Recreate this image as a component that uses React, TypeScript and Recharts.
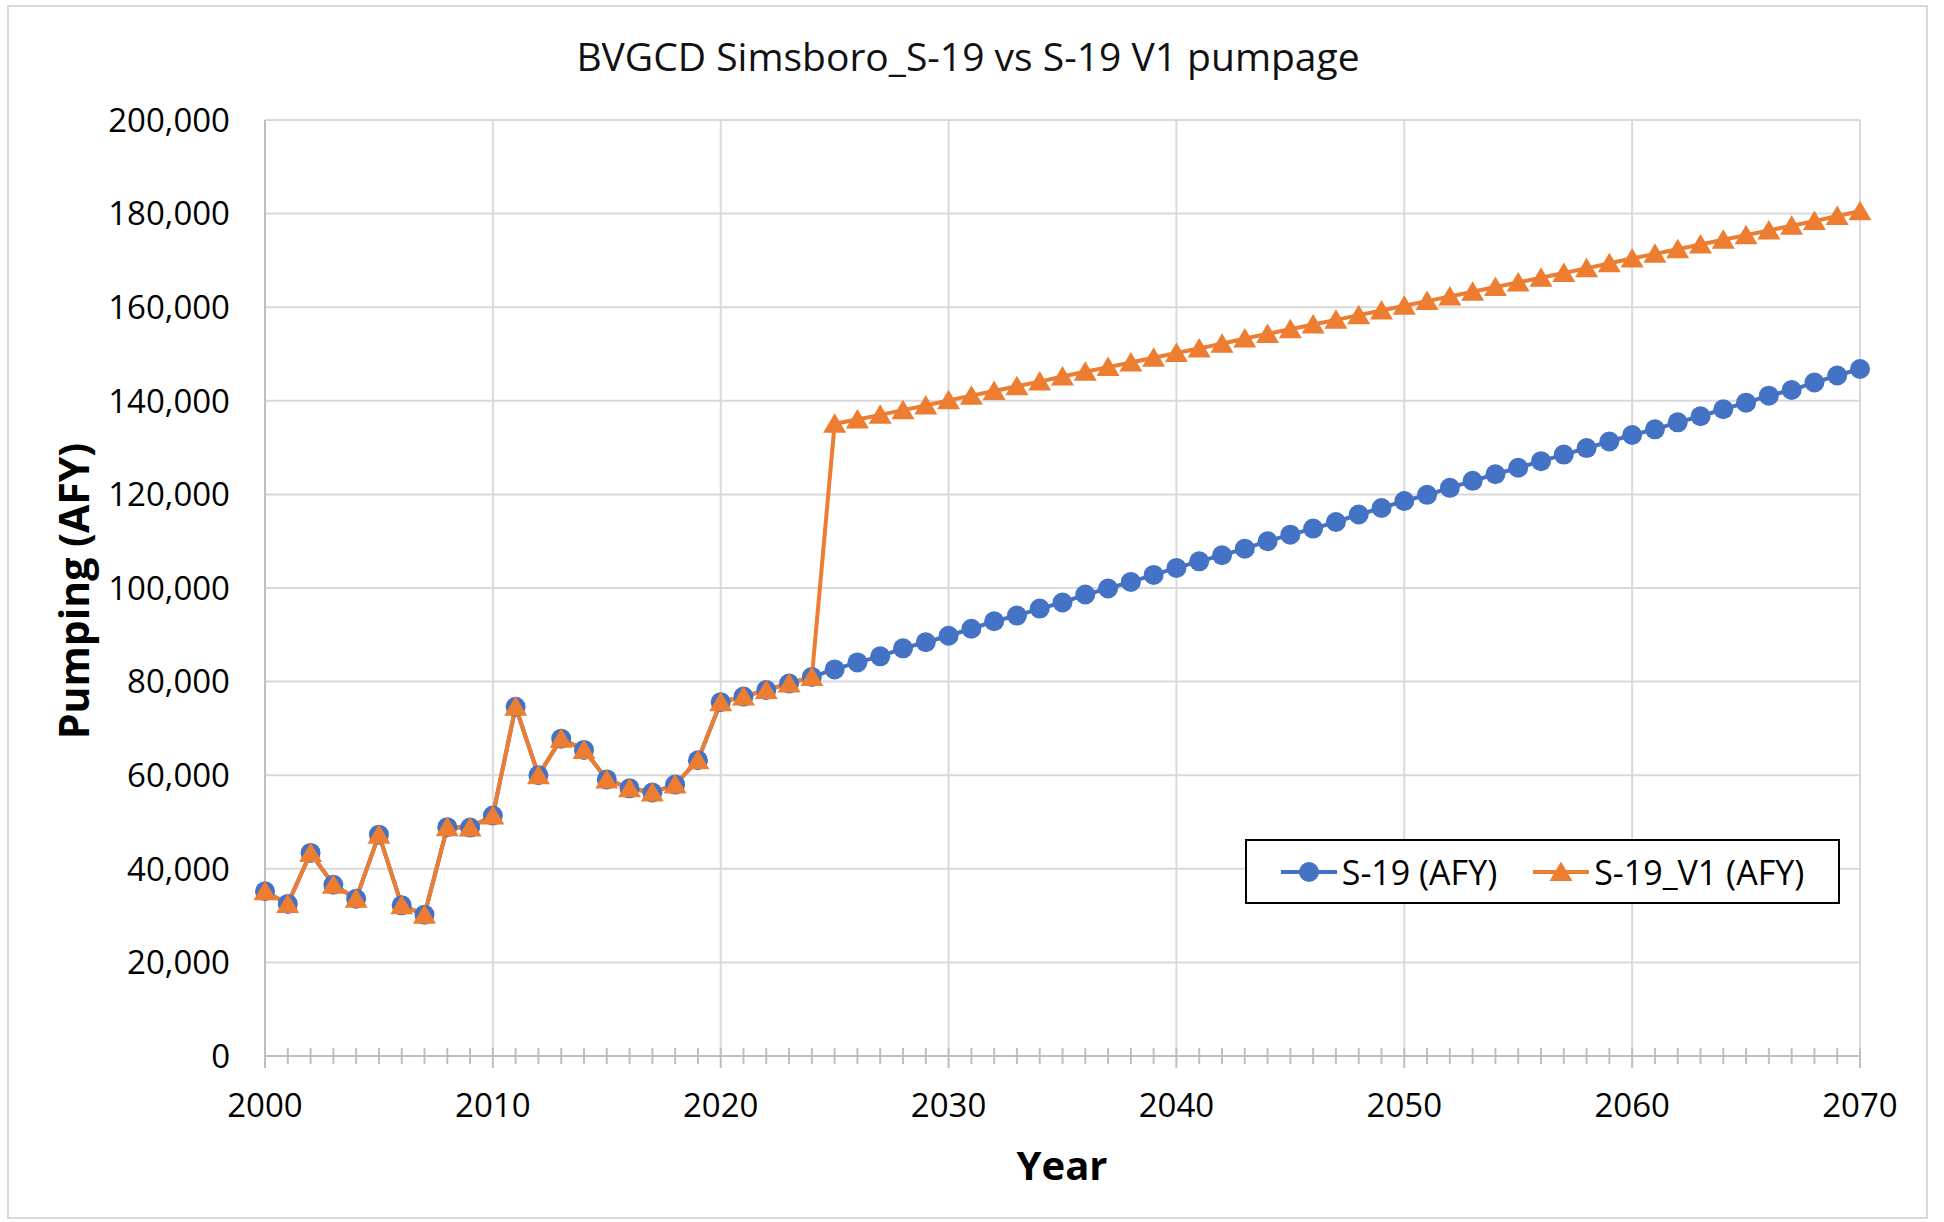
import { LineChart, Line, XAxis, YAxis, CartesianGrid, Legend } from "recharts";

const YEARS = [
  2000, 2001, 2002, 2003, 2004, 2005, 2006, 2007, 2008, 2009,
  2010, 2011, 2012, 2013, 2014, 2015, 2016, 2017, 2018, 2019,
  2020, 2021, 2022, 2023, 2024, 2025, 2026, 2027, 2028, 2029,
  2030, 2031, 2032, 2033, 2034, 2035, 2036, 2037, 2038, 2039,
  2040, 2041, 2042, 2043, 2044, 2045, 2046, 2047, 2048, 2049,
  2050, 2051, 2052, 2053, 2054, 2055, 2056, 2057, 2058, 2059,
  2060, 2061, 2062, 2063, 2064, 2065, 2066, 2067, 2068, 2069,
  2070,
];

const S19 = [
  35200, 32500, 43400, 36600, 33600, 47300, 32200, 30200, 48900, 48800,
  51400, 74600, 60000, 67800, 65400, 59100, 57200, 56300, 58000, 63200,
  75600, 76800, 78200, 79600, 81000, 82600, 84100, 85400, 87100, 88400,
  89800, 91300, 92900, 94100, 95600, 96900, 98600, 99900, 101300, 102800,
  104300, 105700, 107000, 108400, 110000, 111400, 112700, 114100, 115700, 117100,
  118600, 119900, 121400, 122900, 124300, 125700, 127100, 128500, 129900, 131300,
  132700, 133900, 135400, 136700, 138200, 139600, 141100, 142300, 143900, 145400,
  146800,
];

const S19_V1 = [
  35200, 32500, 43400, 36600, 33600, 47300, 32200, 30200, 48900, 48800,
  51400, 74600, 60000, 67800, 65400, 59100, 57200, 56300, 58000, 63200,
  75600, 76800, 78200, 79600, 81000, 135100, 136000, 137000, 138000, 139000,
  140100, 141100, 142100, 143100, 144100, 145200, 146200, 147200, 148200, 149200,
  150200, 151200, 152200, 153300, 154300, 155300, 156300, 157300, 158300, 159300,
  160300, 161300, 162300, 163300, 164300, 165300, 166300, 167300, 168300, 169400,
  170400, 171400, 172400, 173400, 174400, 175400, 176400, 177400, 178400, 179500,
  180500,
];

const DECADES = [2000, 2010, 2020, 2030, 2040, 2050, 2060, 2070];
const Y_TICKS = [0, 20000, 40000, 60000, 80000, 100000, 120000, 140000, 160000, 180000, 200000];

const BLUE = "#4472C4";
const ORANGE = "#ED7D31";
const FONT = '"Open Sans", "Noto Sans", sans-serif';

const data = YEARS.map((year, i) => ({ year, s19: S19[i], v1: S19_V1[i] }));

function YearTick(props: any) {
  const { x, y, payload } = props;
  const major = payload.value % 10 === 0;
  return (
    <g>
      <line x1={x} x2={x} y1={y - 8} y2={y + (major ? 12 : 8)} stroke="#bfbfbf" strokeWidth={2} />
      {major && (
        <text x={x} y={y + 49} dy="0.35em" textAnchor="middle" fontSize={33} fill="#000" fontFamily={FONT}>
          {payload.value}
        </text>
      )}
    </g>
  );
}

function TriangleDot(props: any) {
  const { cx, cy } = props;
  if (cx == null || cy == null) return null;
  return (
    <polygon
      points={`${cx},${cy - 10.5} ${cx - 11.5},${cy + 9} ${cx + 11.5},${cy + 9}`}
      fill={ORANGE}
    />
  );
}

function LegendBox(props: any) {
  const items = props.payload || [];
  return (
    <div
      style={{
        width: "100%",
        height: "100%",
        boxSizing: "border-box",
        border: "2px solid #000",
        background: "#fff",
        display: "flex",
        alignItems: "center",
        justifyContent: "center",
        gap: 36,
        fontFamily: FONT,
        fontSize: 34,
        color: "#000",
      }}
    >
      {items.map((item: any) => {
        const isV1 = item.dataKey === "v1";
        const c = isV1 ? ORANGE : BLUE;
        return (
          <div key={item.value} style={{ display: "flex", alignItems: "center", gap: 5 }}>
            <svg width={56} height={28}>
              <line x1={0} x2={56} y1={14} y2={14} stroke={c} strokeWidth={4} />
              {isV1 ? (
                <polygon points="28,3.5 16.5,23 39.5,23" fill={c} />
              ) : (
                <circle cx={28} cy={14} r={10} fill={c} />
              )}
            </svg>
            <span style={{ lineHeight: 1 }}>{item.value}</span>
          </div>
        );
      })}
    </div>
  );
}

export default function App() {
  return (
    <div
      style={{
        position: "absolute",
        left: 0,
        top: 0,
        width: 1944,
        height: 1222,
        background: "#fff",
        fontFamily: FONT,
        overflow: "hidden",
      }}
    >
      <div
        style={{
          position: "absolute",
          left: 7,
          top: 5,
          width: 1921,
          height: 1214,
          boxSizing: "border-box",
          border: "2px solid #d9d9d9",
        }}
      />
      <div style={{ position: "absolute", left: 0, top: 0 }}>
        <LineChart
          width={1944}
          height={1222}
          data={data}
          margin={{ top: 120, right: 84, bottom: 56, left: 65 }}
        >
          <CartesianGrid
            stroke="#d9d9d9"
            strokeWidth={2}
            verticalValues={DECADES}
            horizontalValues={Y_TICKS}
          />
          <XAxis
            dataKey="year"
            type="number"
            domain={[2000, 2070]}
            ticks={YEARS}
            interval={0}
            height={110}
            tickSize={0}
            tickMargin={0}
            tickLine={false}
            axisLine={{ stroke: "#bfbfbf", strokeWidth: 2 }}
            tick={<YearTick />}
          />
          <YAxis
            type="number"
            domain={[0, 200000]}
            ticks={Y_TICKS}
            width={200}
            tickSize={0}
            tickMargin={35}
            tickLine={false}
            axisLine={{ stroke: "#bfbfbf", strokeWidth: 2 }}
            tick={{ fontSize: 33, fill: "#000", fontFamily: FONT }}
            tickFormatter={(v: number) => v.toLocaleString("en-US")}
          />
          <Legend
            layout="horizontal"
            verticalAlign="middle"
            align="center"
            wrapperStyle={{ left: 1245, top: 839, width: 595, height: 65 }}
            content={<LegendBox />}
          />
          <Line
            type="linear"
            dataKey="s19"
            name="S-19 (AFY)"
            stroke={BLUE}
            strokeWidth={4}
            dot={{ r: 10, fill: BLUE, stroke: BLUE, strokeWidth: 0 }}
            isAnimationActive={false}
          />
          <Line
            type="linear"
            dataKey="v1"
            name="S-19_V1 (AFY)"
            stroke={ORANGE}
            strokeWidth={4}
            dot={(p: any) => <TriangleDot key={`t-${p.index}`} {...p} />}
            isAnimationActive={false}
          />
        </LineChart>
      </div>
      <div
        style={{
          position: "absolute",
          left: 968,
          top: 55,
          transform: "translate(-50%, -50%)",
          fontSize: 39,
          lineHeight: 1,
          whiteSpace: "nowrap",
          color: "#111",
        }}
      >
        BVGCD Simsboro_S-19 vs S-19 V1 pumpage
      </div>
      <div
        style={{
          position: "absolute",
          left: 1062,
          top: 1165,
          transform: "translate(-50%, -50%)",
          fontSize: 40,
          fontWeight: 700,
          lineHeight: 1,
          whiteSpace: "nowrap",
          color: "#000",
        }}
      >
        Year
      </div>
      <div
        style={{
          position: "absolute",
          left: 73,
          top: 591,
          transform: "translate(-50%, -50%) rotate(-90deg)",
          fontSize: 41,
          fontWeight: 700,
          lineHeight: 1,
          whiteSpace: "nowrap",
          color: "#000",
        }}
      >
        Pumping (AFY)
      </div>
    </div>
  );
}
